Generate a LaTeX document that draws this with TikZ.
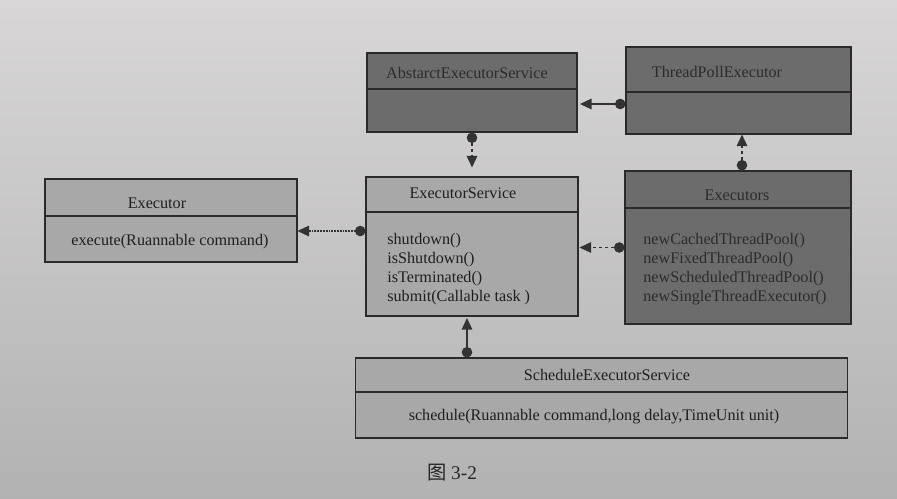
\documentclass[tikz,border=0pt]{standalone}
\usepackage{fontspec}
\setmainfont{Liberation Serif}
\newfontfamily\cjk{Noto Sans CJK SC}
\usetikzlibrary{arrows.meta,calc}
\definecolor{bgtop}{HTML}{D8D6D6}
\definecolor{bgbot}{HTML}{B3B2B2}
\definecolor{lightbox}{HTML}{A8A8A8}
\definecolor{darkbox}{HTML}{6C6C6C}
\definecolor{edge}{HTML}{2A2A2A}
\definecolor{darktext}{HTML}{2C2C2C}
\tikzset{
  lbox/.style={draw=edge, line width=0.6pt, fill=lightbox, inner sep=0pt},
  dbox/.style={draw=edge, line width=0.6pt, fill=darkbox, inner sep=0pt},
  divider/.style={draw=edge, line width=0.6pt},
  ttl/.style={font=\fontsize{9.2}{10.8}\selectfont, text=black!88, inner sep=0pt},
  dttl/.style={font=\fontsize{9.2}{10.8}\selectfont, text=darktext, inner sep=0pt},
  meth/.style={font=\fontsize{9.2}{10.8}\selectfont, text=black!88, inner sep=0pt, anchor=north west, align=left},
  dmeth/.style={font=\fontsize{9.2}{10.8}\selectfont, text=darktext, inner sep=0pt, anchor=north west, align=left},
  conn/.style={draw=black!80, line width=0.7pt, {Circle[length=0.21cm]}-{Triangle[length=0.23cm,width=0.21cm]}},
  solidconn/.style={conn},
  dashconn/.style={conn, dash pattern=on 2pt off 1.5pt},
  dotconn/.style={conn, dash pattern=on 1pt off 0.6pt},
}
\begin{document}
\begin{tikzpicture}[x=0.02cm,y=-0.02cm]
\shade[top color=bgtop, bottom color=bgbot] (0,0) rectangle (897,498);
\useasboundingbox (0,0) rectangle (897,498);

% boxes
\node[dbox, minimum width=4.2cm, minimum height=1.58cm] (aes) at (472,92.5) {};
\node[dbox, minimum width=4.5cm, minimum height=1.74cm] (tpe) at (738.5,90.5) {};
\node[lbox, minimum width=4.24cm, minimum height=2.78cm] (es) at (472,246.5) {};
\node[dbox, minimum width=4.52cm, minimum height=3.06cm] (exs) at (738,247.5) {};
\node[lbox, minimum width=5.04cm, minimum height=1.66cm] (ex) at (171,220.5) {};
\node[lbox, minimum width=9.86cm, minimum height=1.6cm] (ses) at (601.5,398) {};

% dividers
\draw[divider] (aes.west |- 0,89) -- (aes.east |- 0,89);
\draw[divider] (tpe.west |- 0,92) -- (tpe.east |- 0,92);
\draw[divider] (es.west |- 0,212) -- (es.east |- 0,212);
\draw[divider] (exs.west |- 0,208) -- (exs.east |- 0,208);
\draw[divider] (ex.west |- 0,216) -- (ex.east |- 0,216);
\draw[divider] (ses.west |- 0,392) -- (ses.east |- 0,392);

% titles
\node[dttl] (aest) at (467,73) {AbstarctExecutorService};
\node[dttl] (tpet) at (717,72) {ThreadPollExecutor};
\node[ttl] (est) at (463,193) {ExecutorService};
\node[dttl] (exst) at (737,195) {Executors};
\node[ttl] (ext) at (157,203) {Executor};
\node[ttl] (sest) at (607,375) {ScheduleExecutorService};

% methods
\node[ttl] (exm) at (170,242) {execute(Ruannable command)};
\node[meth] (esm) at (387,233) {shutdown()\\isShutdown()\\isTerminated()\\submit(Callable task )};
\node[dmeth] (exsm) at (643,233) {newCachedThreadPool()\\newFixedThreadPool()\\newScheduledThreadPool()\\newSingleThreadExecutor()};
\node[ttl] (sesm) at (594,417) {schedule(Ruannable command,long delay,TimeUnit unit)};

% connectors
\coordinate (p1) at ([yshift=-0.27cm]tpe.west);
\draw[solidconn, shorten >=0.05cm] (p1) -- (p1 -| aes.east);
\draw[dashconn, shorten >=0.18cm] (aes.south) -- (aes.south |- es.north);
\coordinate (p3) at ([xshift=0.08cm]exs.north);
\draw[dashconn] (p3) -- (p3 |- tpe.south);
\draw[dashconn, shorten >=0.02cm] (exs.west) -- (exs.west -| es.east);
\coordinate (p5) at ([yshift=0.31cm]es.west);
\draw[dotconn] (p5) -- (p5 -| ex.east);
\coordinate (p6) at ([xshift=-0.1cm]es.south);
\draw[solidconn, shorten >=0.03cm] (p6 |- ses.north) -- (p6);

% caption
\node[font=\fontsize{11}{13}\selectfont, text=black!85] (cap) at (452,473) {{\cjk 图} 3-2};
\end{tikzpicture}
\end{document}
